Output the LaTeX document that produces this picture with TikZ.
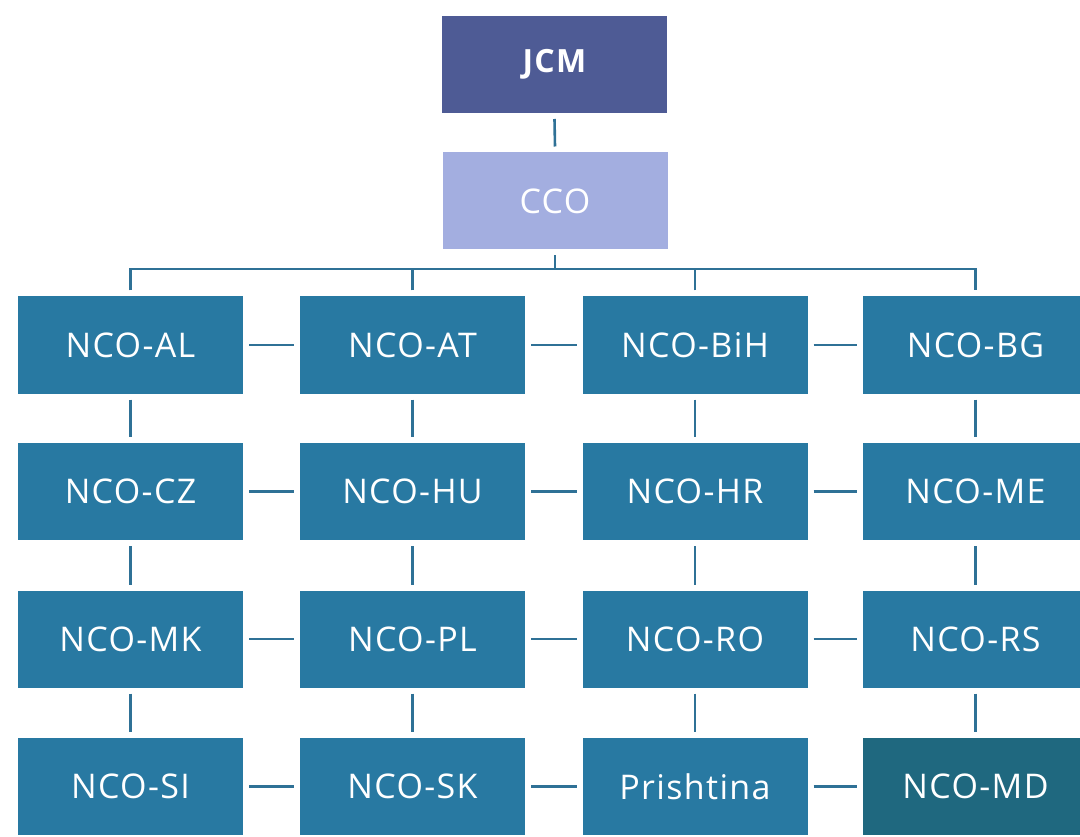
\documentclass[tikz,border=0pt]{standalone}
\usepackage{fontspec}
\setmainfont{Open Sans}[LetterSpace=4]
\usetikzlibrary{shadows}
\definecolor{jcmc}{HTML}{4E5B95}
\definecolor{ccoc}{HTML}{A3AEE0}
\definecolor{ncoc}{HTML}{2879A2}
\definecolor{mdc}{HTML}{1F687F}
\definecolor{linec}{HTML}{2F7196}
\tikzset{
  box/.style={rectangle, draw=white, line width=6pt, fill=ncoc, minimum width=231pt, minimum height=103pt, inner sep=0pt, text=white, font=\fontsize{34}{38}\selectfont, drop shadow={opacity=0.18, shadow xshift=0pt, shadow yshift=-2pt}},
  conn/.style={draw=linec, line width=2.6pt}
}
\begin{document}
\begin{tikzpicture}[x=1pt,y=-1pt]
\useasboundingbox (0,0) rectangle (1080,837);
\clip (0,0) rectangle (1080,837);
\node[box, fill=jcmc, font=\fontsize{32}{38}\selectfont\bfseries] (jcm) at (554.5,64.5) {JCM};
\node[box, fill=ccoc] (cco) at (555,201) {CCO};
% row 1
\node[box] (al) at (130.5,345) {NCO-AL};
\node[box] (at) at (412.5,345) {NCO-AT};
\node[box] (bih) at (695,345) {NCO-BiH};
\node[box] (bg) at (975.5,345) {NCO-BG};
% row 2
\node[box] (cz) at (130.5,491.5) {NCO-CZ};
\node[box] (hu) at (412.5,491.5) {NCO-HU};
\node[box] (hr) at (695,491.5) {NCO-HR};
\node[box] (me) at (975.5,491.5) {NCO-ME};
% row 3
\node[box] (mk) at (130.5,639) {NCO-MK};
\node[box] (pl) at (412.5,639) {NCO-PL};
\node[box] (ro) at (695,639) {NCO-RO};
\node[box] (rs) at (975.5,639) {NCO-RS};
% row 4
\node[box] (si) at (130.5,786.5) {NCO-SI};
\node[box] (sk) at (412.5,786.5) {NCO-SK};
\node[box] (pr) at (695,786.5) {Prishtina};
\node[box, fill=mdc] (md) at (975.5,786.5) {NCO-MD};
\coordinate (bus) at (553,269);
% top connectors
\draw[conn] (jcm.south) -- (cco.north);
\draw[conn] (cco.south) -- (cco.south |- bus);
\draw[conn] (al.north) -- (al.north |- bus) -- (bg.north |- bus) -- (bg.north);
\draw[conn] (at.north) -- (at.north |- bus);
\draw[conn] (bih.north) -- (bih.north |- bus);
% vertical connectors
\foreach \a/\b in {al/cz,cz/mk,mk/si,at/hu,hu/pl,pl/sk,bih/hr,hr/ro,ro/pr,bg/me,me/rs,rs/md}
  \draw[conn] (\a.south) -- (\b.north);
% horizontal connectors
\foreach \a/\b in {al/at,at/bih,bih/bg,cz/hu,hu/hr,hr/me,mk/pl,pl/ro,ro/rs,si/sk,sk/pr,pr/md}
  \draw[conn] (\a.east) -- (\b.west);
\end{tikzpicture}
\end{document}
